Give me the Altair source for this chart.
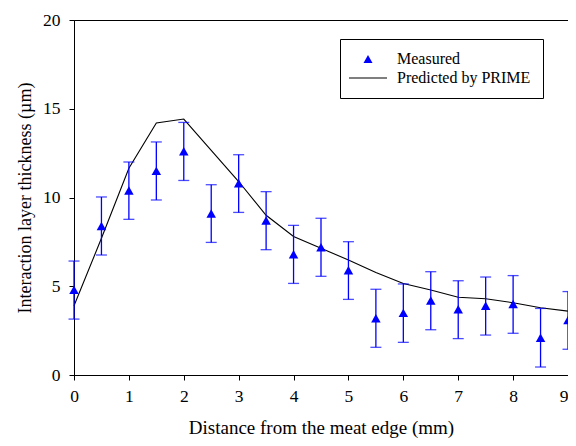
import altair as alt
import pandas as pd

# ---- data ----
dist = [0, 0.5, 1, 1.5, 2, 2.5, 3, 3.5, 4, 4.5, 5, 5.5, 6, 6.5, 7, 7.5, 8, 8.5, 9]
measured = [4.8, 8.4, 10.4, 11.5, 12.6, 9.1, 10.8, 8.7, 6.8, 7.2, 5.9, 3.2, 3.5, 4.2, 3.7, 3.9, 4.0, 2.1, 3.1]
err_low = [3.15, 6.76, 8.77, 9.86, 10.96, 7.47, 9.16, 7.06, 5.16, 5.56, 4.26, 1.56, 1.84, 2.55, 2.05, 2.25, 2.35, 0.45, 1.45]
err_high = [6.42, 10.03, 12.0, 13.13, 14.23, 10.72, 12.41, 10.33, 8.43, 8.83, 7.51, 4.83, 5.13, 5.82, 5.31, 5.52, 5.60, 3.75, 4.70]
predicted = [3.9, 7.7, 11.65, 14.2, 14.42, 12.65, 10.9, 9.0, 7.8, 7.14, 6.48, 5.77, 5.16, 4.79, 4.38, 4.3, 4.07, 3.79, 3.6]
series = ["Measured", "Predicted by PRIME"]
x_ticks = [0, 1, 2, 3, 4, 5, 6, 7, 8, 9]
y_ticks = [0, 5, 10, 15, 20]

df = pd.DataFrame({
    "dist": dist,
    "measured": measured,
    "lo": err_low,
    "hi": err_high,
    "pred": predicted,
    "series": ["Measured"] * len(dist),
})

FONT = "Liberation Serif"
BLUE = "#0000FF"
TRI = "M0,-1L-1.12,1L1.12,1Z"
LINE = "M-4.75,-0.13L4.75,-0.13L4.75,0.13L-4.75,0.13Z"

x_enc = alt.X("dist:Q", scale=alt.Scale(domain=[0, 9], nice=False),
              axis=alt.Axis(values=x_ticks, format="d", title="Distance from the meat edge (mm)",
                            titleFontSize=19, titlePadding=14,
                            labelAlign=alt.ExprRef("datum.value == 9 ? 'right' : 'center'")))
y_scale = alt.Scale(domain=[0, 20], nice=False)
y_axis = alt.Axis(values=y_ticks, format="d", title="Interaction layer thickness (\u00b5m)")

line = alt.Chart().mark_line(color="black", strokeWidth=1.1).encode(
    x=x_enc, y=alt.Y("pred:Q", scale=y_scale, axis=y_axis))

rules = alt.Chart().mark_rule(color=BLUE, strokeWidth=1.3).encode(
    x=x_enc, y=alt.Y("lo:Q", scale=y_scale, axis=y_axis), y2="hi:Q")

cap_lo = alt.Chart().mark_tick(color=BLUE, orient="horizontal", size=11, thickness=1.3).encode(
    x=x_enc, y=alt.Y("lo:Q", scale=y_scale, axis=y_axis))
cap_hi = alt.Chart().mark_tick(color=BLUE, orient="horizontal", size=11, thickness=1.3).encode(
    x=x_enc, y=alt.Y("hi:Q", scale=y_scale, axis=y_axis))

legend = alt.Legend(orient="none", legendX=266, legendY=19, title=None,
                    strokeColor="black", fillColor="white", padding=12,
                    labelFont=FONT, labelFontSize=16, labelColor="black",
                    symbolSize=64, symbolOffset=8, labelOffset=21, rowPadding=3,
                    symbolStrokeWidth=0)

points = alt.Chart().mark_point(filled=True, opacity=1, size=72).encode(
    x=x_enc,
    y=alt.Y("measured:Q", scale=y_scale, axis=y_axis),
    shape=alt.Shape("series:N", scale=alt.Scale(domain=series, range=[TRI, LINE]), legend=legend),
    color=alt.Color("series:N", scale=alt.Scale(domain=series, range=[BLUE, "black"]), legend=legend),
)

chart = alt.layer(line, rules, cap_lo, cap_hi, points, data=df).properties(
    width=494, height=355,
    autosize=alt.AutoSizeParams(type="none"),
    padding={"left": 66, "top": 12, "right": 0, "bottom": 63},
).configure_view(stroke="black", strokeWidth=1).configure_axis(
    grid=False, domainColor="black", domainWidth=1, tickColor="black", tickSize=5,
    labelFont=FONT, labelFontSize=17.5, labelColor="black", labelPadding=7,
    titleFont=FONT, titleFontSize=18, titleFontWeight="normal", titleColor="black",
    titlePadding=10,
).configure_axisY(labelPadding=9, titlePadding=8)

chart.save("out.html", embed_options={"renderer": "svg", "actions": False})
